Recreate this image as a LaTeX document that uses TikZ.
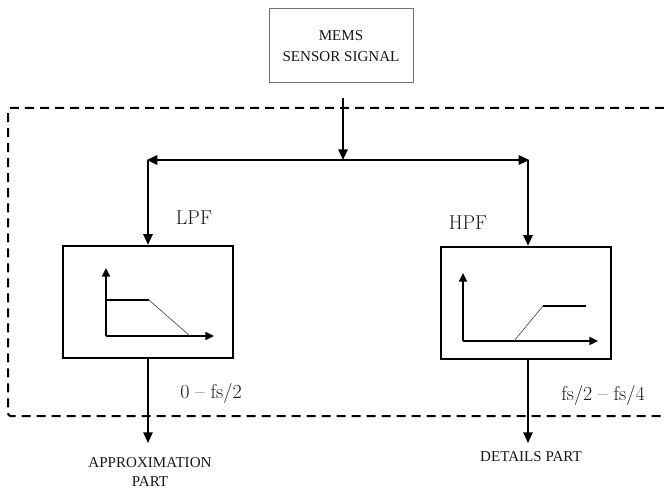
\documentclass[tikz,border=0pt]{standalone}
\usepackage{fontspec}
\newfontfamily\timesfont{Liberation Serif}
\usetikzlibrary{arrows.meta}
\begin{document}
\begin{tikzpicture}[x=0.75pt,y=-0.75pt,
  line join=miter,
  arr/.style={line width=1.5pt,-{Triangle[length=8pt,width=7pt]}},
  axarr/.style={line width=1.1pt,-{Triangle[length=6.5pt,width=6pt]}},
  filterbox/.style={draw,line width=1.8pt,minimum width=127.5pt,minimum height=84pt,inner sep=0pt},
  smalltext/.style={font=\timesfont\fontsize{11.3}{14.3}\selectfont,text=black!90,align=center,inner sep=0pt},
  bigtext/.style={font=\fontsize{15}{17}\selectfont,text=black!90,inner sep=0pt},
  freqtext/.style={font=\fontsize{15}{17}\selectfont,text=black!90,inner sep=0pt},
  curve/.style={line width=0.5pt,draw=black!70}]
\useasboundingbox (0,0) rectangle (664,488);
\fill[white] (0,0) rectangle (664,488);

% dashed enclosure (open on the right)
\draw[line width=1.5pt,dash pattern=on 6.75pt off 4.5pt,rounded corners=2pt]
  (664,108) -- (8,108) -- (8,416) -- (664,416);

% source
\node[draw=black!55,line width=0.6pt,minimum width=108pt,minimum height=55.5pt,inner sep=0pt] (mems) at (341,45) {};
\node[smalltext,font=\timesfont\fontsize{11.3}{15.8}\selectfont] (memstext) at (341,46.5) {MEMS\\SENSOR SIGNAL};

\coordinate (src) at (343,98);
\coordinate (split) at (343,160);
\coordinate (lc) at (148,160);
\coordinate (rc) at (528,160);

% filters
\node[filterbox] (lpf) at (148,302) {};
\node[filterbox] (hpf) at (526,303) {};

\draw[arr] (src) -- (split);
\draw[arr] (split) -- ([xshift=-1pt]lc);
\draw[arr] (split) -- ([xshift=1pt]rc);
\draw[arr] (lc) -- (lpf.north);
\draw[arr] (rc) -- (rc |- hpf.north);

% labels
\node[bigtext] (lpflabel) at (194,218) {LPF};
\node[bigtext] (hpflabel) at (468,223) {HPF};

% LPF response
\coordinate (lo) at (106,336);
\draw[axarr] (lo) -- (106,268);
\draw[axarr] (lo) -- (214,336);
\draw[line width=1.1pt] (106,300) -- (149,300);
\draw[curve] (149,300) -- (190,336);

% HPF response
\coordinate (ho) at (463,341);
\draw[axarr] (ho) -- (463,273);
\draw[axarr] (ho) -- (598,341);
\draw[curve] (514,341) -- (543,306);
\draw[line width=1.1pt] (543,306) -- (586,306);

% outputs
\coordinate (lout) at (148,443);
\coordinate (hout) at (528,443);
\draw[arr,line width=1.3pt] (lpf.south) -- (lout);
\draw[arr,line width=1.3pt] (rc |- hpf.south) -- (hout);

\node[freqtext] (lband) at (211,393) {0 -- fs/2};
\node[freqtext] (hband) at (603,395) {fs/2 -- fs/4};

\node[smalltext,font=\timesfont\fontsize{11.3}{14.3}\selectfont] (approx) at (150,472) {APPROXIMATION\\PART};
\node[smalltext] (details) at (531,457) {DETAILS PART};
\end{tikzpicture}
\end{document}
